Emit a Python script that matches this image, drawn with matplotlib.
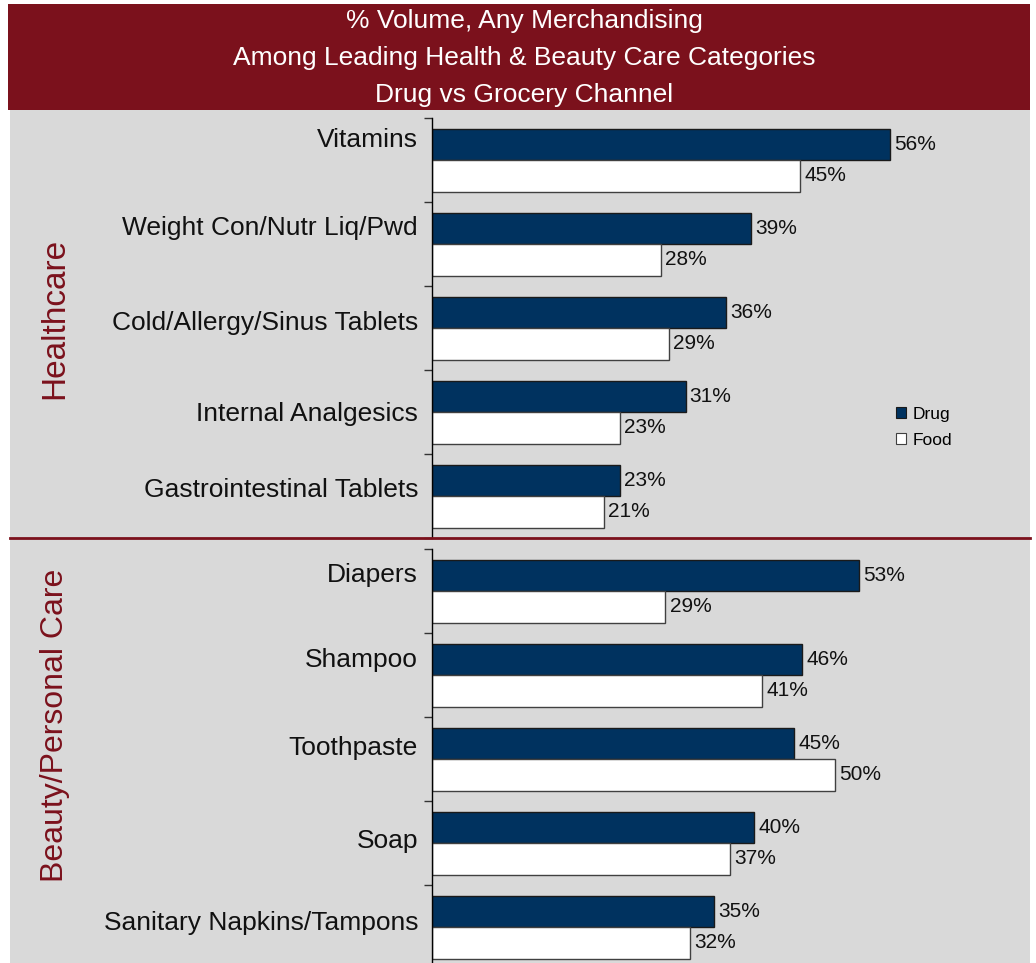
import matplotlib.pyplot as plt
import numpy as np
from matplotlib.patches import Rectangle, Patch
from matplotlib.lines import Line2D

plt.rcParams['font.family'] = ['Liberation Sans', 'DejaVu Sans']

title_lines = ["% Volume, Any Merchandising",
               "Among Leading Health & Beauty Care Categories",
               "Drug vs Grocery Channel"]

health_cats = ["Vitamins", "Weight Con/Nutr Liq/Pwd", "Cold/Allergy/Sinus Tablets",
               "Internal Analgesics", "Gastrointestinal Tablets"]
health_drug = [56, 39, 36, 31, 23]
health_food = [45, 28, 29, 23, 21]

beauty_cats = ["Diapers", "Shampoo", "Toothpaste", "Soap", "Sanitary Napkins/Tampons"]
beauty_drug = [53, 46, 45, 40, 35]
beauty_food = [29, 41, 50, 37, 32]

series_names = ["Drug", "Food"]

# category label nudges (pixels up), as placed in the original slide
health_nudge = [20, 16, 5, -2, 6]
beauty_nudge = [16, 15, 11, 2, 4]

DRUG = "#00325F"
FOOD = "#FFFFFF"
RED = "#7B111C"
GRAY = "#D9D9D9"

W, H = 1036, 963
fig = plt.figure(figsize=(W / 100, H / 100), dpi=100)


def fx(px):
    return px / W


def fy(py):
    # pixel y measured from top
    return 1 - py / H


# backgrounds
fig.patches.append(Rectangle((fx(10), 0), fx(1020), fy(110), transform=fig.transFigure,
                             facecolor=GRAY, edgecolor="none", zorder=-2))
fig.patches.append(Rectangle((fx(8), fy(110)), fx(1022), 106 / H, transform=fig.transFigure,
                             facecolor=RED, edgecolor="none", zorder=-2))
for i, line in enumerate(title_lines):
    fig.text(fx(524), fy(21 + 37 * i), line, color="white", fontsize=19,
             ha="center", va="center")


def draw_panel(ax, cats, drug, food, nudge, xmax):
    y = np.arange(len(cats))
    h = 0.375
    ax.barh(y - h / 2, drug, height=h, color=DRUG, edgecolor="#1a1a1a", linewidth=1)
    ax.barh(y + h / 2, food, height=h, color=FOOD, edgecolor="#404040", linewidth=1)
    for yi, d, f in zip(y, drug, food):
        ax.annotate(f"{d}%", (d, yi - h / 2), xytext=(3, 0), textcoords="offset points",
                    va="center", ha="left", fontsize=15, color="#111111")
        ax.annotate(f"{f}%", (f, yi + h / 2), xytext=(3, 0), textcoords="offset points",
                    va="center", ha="left", fontsize=15, color="#111111")
    # category labels
    for yi, cat, n in zip(y, cats, nudge):
        ax.annotate(cat, (0, yi), xycoords=("axes fraction", "data"), xytext=(-14, n),
                    textcoords="offset pixels", ha="right", va="center",
                    fontsize=19, color="#111111", annotation_clip=False)
    ax.set_xlim(0, xmax)
    ax.set_ylim(len(cats) - 0.5, -0.5)
    ax.set_yticks(np.arange(len(cats) + 1) - 0.5)
    ax.set_yticklabels([])
    ax.tick_params(axis="y", length=6, width=1, color="#333333", direction="out")
    ax.set_xticks([])
    ax.patch.set_visible(False)
    for s in ["top", "right", "bottom"]:
        ax.spines[s].set_visible(False)
    ax.spines["left"].set_color("black")
    ax.spines["left"].set_linewidth(1)


ax1 = fig.add_axes([fx(432), fy(538), fx(598), 420 / H])
draw_panel(ax1, health_cats, health_drug, health_food, health_nudge, 598 / 8.18)

ax2 = fig.add_axes([fx(432), fy(969), fx(598), 420 / H])
draw_panel(ax2, beauty_cats, beauty_drug, beauty_food, beauty_nudge, 598 / 8.05)

# separator between sections
fig.add_artist(Line2D([fx(10), fx(1030)], [fy(538), fy(538)], transform=fig.transFigure,
                      color=RED, linewidth=2))

# section labels
fig.text(fx(55), fy(318), "Healthcare", rotation=90, color=RED, fontsize=24,
         ha="center", va="center")
fig.text(fx(55), fy(725), "Beauty/Personal Care", rotation=90, color=RED, fontsize=23,
         ha="center", va="center")

handles = [Patch(facecolor=DRUG, edgecolor="#1a1a1a", linewidth=0.8),
           Patch(facecolor=FOOD, edgecolor="#404040", linewidth=0.8)]
fig.legend(handles, series_names, loc="upper left", bbox_to_anchor=(fx(887), fy(398)),
           frameon=False, fontsize=12.5, handlelength=0.62, handleheight=0.62,
           handletextpad=0.35, labelspacing=0.64, borderpad=0)

fig.savefig("out.png", dpi=100)
